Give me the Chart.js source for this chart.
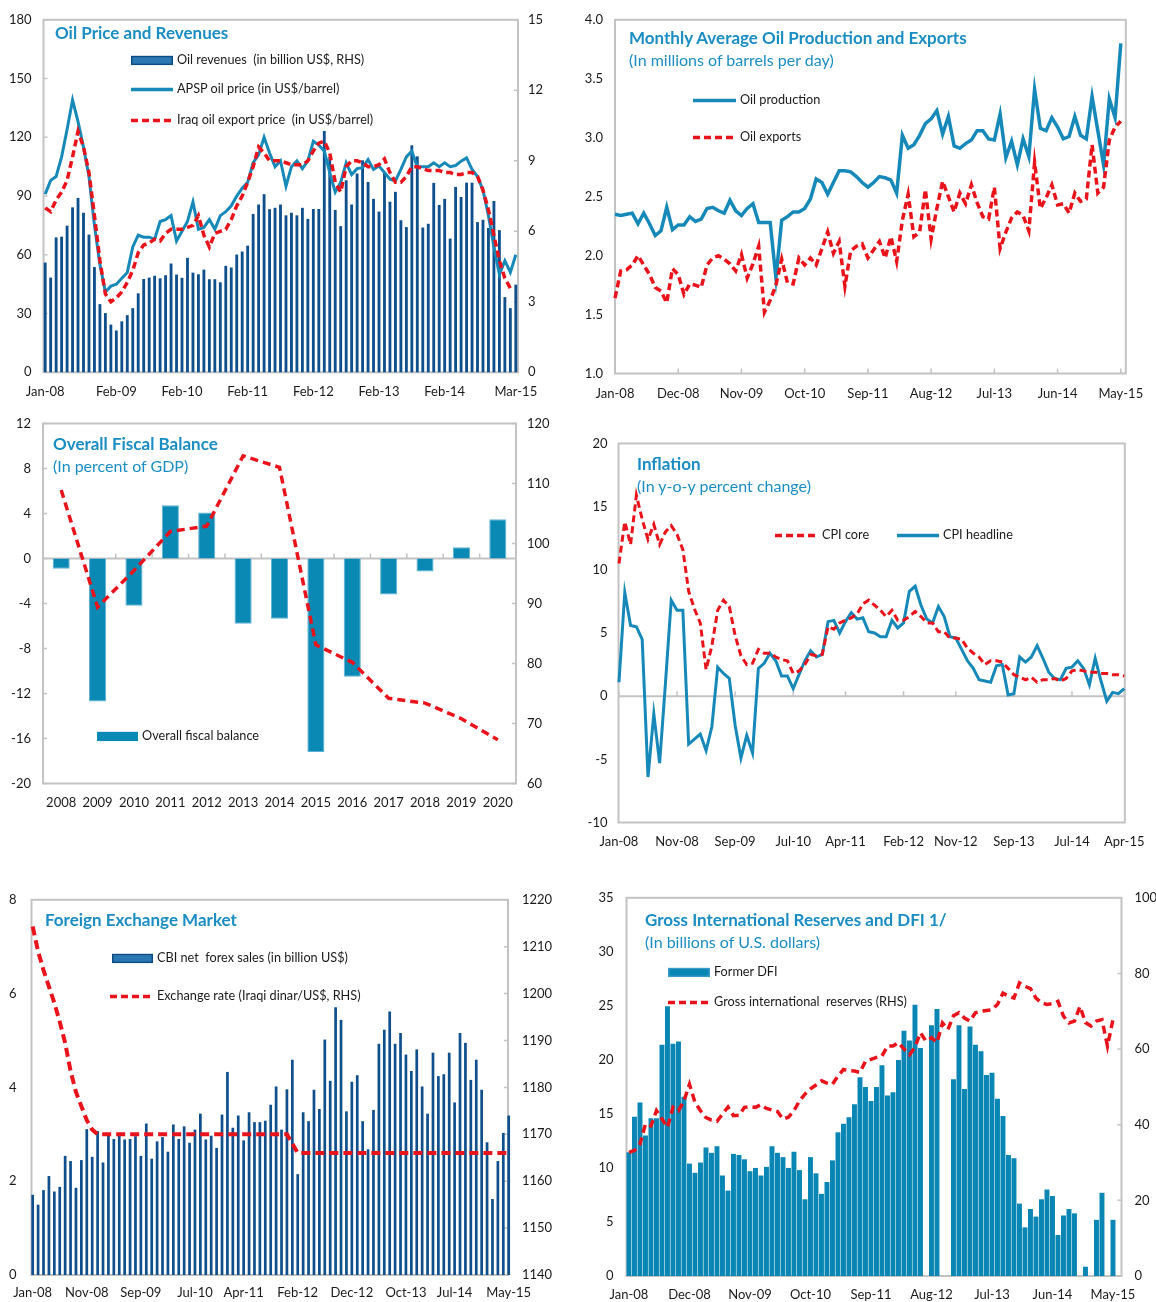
<!DOCTYPE html>
<html>
<head>
<meta charset="utf-8">
<script src="https://cdn.jsdelivr.net/npm/chart.js@4.4.1/dist/chart.umd.min.js"></script>
<style>
body { margin:0; background:#fff; width:1156px; height:1302px; position:relative; overflow:hidden; font-family:Lato, 'Open Sans', sans-serif; }
canvas { position:absolute; }
.ttl { position:absolute; color:#1a8dc2; font-weight:bold; font-size:17px; line-height:1.2; white-space:pre; transform:translateY(-50%); }
.sub { position:absolute; color:#1a8dc2; font-size:16px; line-height:1.2; white-space:pre; transform:translateY(-50%); }
.lg { position:absolute; font-size:12.7px; color:#1a1a1a; line-height:1.2; white-space:pre; display:flex; align-items:center; transform:translateY(-50%); }
.lg svg { margin-right:4px; display:block; }
</style>
</head>
<body>
<script>
// ---- panel 1: oil price and revenues (Jan-08 .. Mar-15)
const oilRevenue = [4.67,4.03,5.74,5.77,6.24,7.02,7.42,6.79,5.86,4.48,
  2.90,2.52,2.03,1.78,2.17,2.43,2.73,3.36,3.97,4.03,
  4.11,4.00,4.13,4.63,4.16,4.02,4.87,4.24,4.17,4.37,
  3.96,3.96,3.83,4.53,4.46,5.01,5.14,5.39,6.74,7.14,
  7.58,6.94,7.00,7.14,6.68,6.79,6.68,7.00,6.53,6.95,
  6.95,10.27,9.17,6.91,6.22,8.17,7.14,8.46,9.02,8.10,
  7.38,6.84,8.49,7.26,7.68,6.47,6.18,9.66,9.19,6.16,
  6.32,8.06,7.12,7.38,5.69,7.89,7.46,8.07,8.07,6.39,
  6.49,6.14,7.29,6.05,3.20,2.73,3.73];
const apspPrice = [91,98,100,110,124,139,128,115,100,75,
  55,41,44,45,48,51,64,70,69,69,
  68,77,78,80,67,72,77,87,73,74,
  78,73,80,82,85,90,94,97,107,111,
  120,112,105,108,95,105,108,104,108,118,
  116,113,102,92,97,107,101,104,104.5,108.6,
  103.6,105.3,102,98.6,97.7,103.6,110,113,105,105,
  105,107,105,107,105,105.6,107.8,109.5,103.6,100,
  93,80,64,50,57,51,60];
const iraqExportPrice = [84,82,88,92,98,110,123,115,102,80,
  57,40,36,38,41,46,52,61,65,66,
  68,67,71,73,73,73,74,75,80,70,
  64,71,72,73,78,85,90,97,105,115,
  112,108,108,108,107,106,106,106,108,113,
  117,118,112,97,92,105,108,108,107,105,
  105,106,109,102,97,97,100,105,105,104,
  103,103,103,102,102,101,101,102,102,100,
  93,83,70,57,48,43,null];
const p1TickLabels = ['Jan-08','Feb-09','Feb-10','Feb-11','Feb-12','Feb-13','Feb-14','Mar-15'];

// ---- panel 2: oil production and exports (Jan-08 .. May-15)
const oilProduction = [2.35,2.34,2.35,2.36,2.27,2.36,2.27,2.17,2.21,2.41,
  2.22,2.26,2.26,2.33,2.29,2.31,2.40,2.41,2.38,2.36,
  2.47,2.38,2.34,2.40,2.44,2.28,2.28,2.28,1.81,2.30,
  2.33,2.37,2.37,2.40,2.48,2.65,2.62,2.52,2.62,2.72,
  2.72,2.71,2.67,2.62,2.58,2.62,2.67,2.66,2.64,2.53,
  3.02,2.91,2.94,3.02,3.12,3.16,3.23,3.03,3.18,2.93,
  2.91,2.95,2.98,3.06,3.06,2.99,2.98,3.20,2.83,2.97,
  2.77,2.99,2.84,3.41,3.08,3.06,3.17,3.09,2.99,3.01,
  3.18,3.02,2.99,3.35,3.06,2.77,3.33,3.17,3.80];
const oilExports = [1.64,1.87,1.88,1.92,2.00,1.92,1.84,1.73,1.70,1.60,
  1.89,1.84,1.67,1.76,1.75,1.73,1.92,1.98,2.00,1.97,
  1.93,1.87,2.01,1.81,1.93,2.08,1.52,1.62,1.75,1.97,
  1.77,1.76,1.98,1.92,1.98,1.92,2.06,2.20,2.02,2.12,
  1.74,2.04,2.08,2.10,1.98,2.05,2.12,1.98,2.16,1.95,
  2.30,2.52,2.16,2.20,2.56,2.14,2.40,2.63,2.50,2.37,
  2.53,2.44,2.60,2.45,2.33,2.31,2.58,2.06,2.20,2.32,
  2.37,2.34,2.21,2.79,2.40,2.49,2.60,2.43,2.44,2.36,
  2.53,2.46,2.48,2.94,2.53,2.58,2.98,3.09,3.14];
const p2TickLabels = ['Jan-08','Dec-08','Nov-09','Oct-10','Sep-11','Aug-12','Jul-13','Jun-14','May-15'];

// ---- panel 3: overall fiscal balance
const fiscalYears = ['2008','2009','2010','2011','2012','2013','2014','2015','2016','2017','2018','2019','2020'];
const fiscalBalance = [-0.9,-12.7,-4.2,4.74,4.1,-5.8,-5.36,-17.2,-10.5,-3.2,-1.16,1.0,3.5];
const fiscalRhsLine = [108.9,89.4,95.5,102,102.9,114.6,112.7,83.1,80.2,74.2,73.4,70.8,67.3];

// ---- panel 4: inflation (Jan-08 .. Apr-15)
const cpiCore = [10.5,13.8,12.0,15.9,14.0,12.4,13.6,12.0,13.0,13.5,
  12.8,11.6,8.3,6.9,5.8,2.1,4.0,6.8,7.6,7.1,
  4.8,3.2,2.5,2.6,3.7,3.4,3.4,3.1,2.9,2.8,
  1.8,2.0,2.5,3.3,3.2,3.3,5.5,5.3,5.8,6.0,
  6.2,6.5,7.3,7.6,7.2,6.8,6.3,6.8,6.0,6.0,
  6.3,6.7,6.3,5.8,5.8,5.1,5.1,4.6,4.6,4.5,
  3.8,3.4,3.1,2.5,2.8,2.8,2.7,2.2,1.7,1.5,
  1.3,1.5,1.1,1.3,1.3,1.4,1.2,1.4,2.0,2.1,
  2.0,1.9,1.9,1.8,1.8,1.7,1.7,1.6];
const cpiHeadline = [1.1,8.2,5.6,5.5,4.5,-6.4,-1.4,-5.3,1.0,7.6,
  6.8,6.8,-3.8,-3.4,-3.0,-4.3,-2.4,2.3,1.8,1.4,
  -2.3,-4.9,-3.1,-4.5,2.2,2.6,3.4,2.8,1.6,1.6,
  0.6,1.7,2.8,3.6,3.1,3.3,5.9,6.0,5.0,5.9,
  6.6,6.1,6.2,5.1,5.0,4.7,4.7,6.0,5.4,5.8,
  8.3,8.7,7.2,6.1,5.8,7.1,6.3,4.7,4.6,3.7,
  2.8,2.2,1.3,1.2,1.1,2.4,2.5,0.1,0.2,3.1,
  2.7,3.1,4.0,3.0,1.9,1.4,1.3,2.2,2.3,2.8,
  2.2,0.9,3.0,1.2,-0.4,0.3,0.2,0.6];
const p4TickLabels = ['Jan-08','Nov-08','Sep-09','Jul-10','Apr-11','Feb-12','Nov-12','Sep-13','Jul-14','Apr-15'];

// ---- panel 5: foreign exchange market (Jan-08 .. May-15)
const forexSales = [1.71,1.50,1.81,2.11,1.78,1.88,2.54,2.43,1.86,2.45,
  3.11,2.52,3.07,2.40,3.03,2.90,3.00,2.89,2.90,2.96,
  2.54,3.23,2.48,2.85,2.94,2.63,3.21,2.90,3.17,2.82,
  3.10,3.44,2.89,2.97,2.71,3.42,4.33,3.14,3.40,2.87,
  3.47,3.26,3.26,3.29,3.63,4.02,3.10,3.96,4.59,2.15,
  3.47,3.28,3.95,3.54,5.02,4.14,5.71,5.44,3.49,4.12,
  4.26,3.28,2.68,3.52,4.93,5.23,5.62,4.93,5.16,4.70,
  4.35,4.81,4.02,3.44,4.74,4.24,4.28,4.74,3.68,5.16,
  4.95,4.16,4.59,3.95,2.83,1.62,2.43,3.03,3.40];
const exchangeRate = [1214.3,1209,1205,1201.5,1198,1194,1189.5,1183.5,1179,1176,
  1173,1171,1170,1170,1170,1170,1170,1170,1170,1170,
  1170,1170,1170,1170,1170,1170,1170,1170,1170,1170,
  1170,1170,1170,1170,1170,1170,1170,1170,1170,1170,
  1170,1170,1170,1170,1170,1170,1170,1170,1168,1166,
  1166,1166,1166,1166,1166,1166,1166,1166,1166,1166,
  1166,1166,1166,1166,1166,1166,1166,1166,1166,1166,
  1166,1166,1166,1166,1166,1166,1166,1166,1166,1166,
  1166,1166,1166,1166,1166,1166,1166,1166,1166];
const p5TickLabels = ['Jan-08','Nov-08','Sep-09','Jul-10','Apr-11','Feb-12','Dec-12','Oct-13','Jul-14','May-15'];

// ---- panel 6: gross international reserves and DFI (Jan-08 .. May-15)
const formerDFI = [11.45,14.74,16.06,13.0,14.6,14.6,21.4,24.96,21.5,21.7,
  16.6,10.4,9.55,10.5,11.9,11.4,12.0,9.3,7.9,11.3,
  11.2,10.8,9.7,10.0,9.3,10.1,12.0,11.4,11.0,10.0,
  11.5,9.8,7.1,11.0,9.5,7.6,8.7,10.7,13.3,14.1,
  14.7,15.9,18.4,17.5,16.2,17.5,19.5,16.7,17.0,20.0,
  22.7,21.8,25.1,21.1,0,23.2,24.7,0,0,18.2,
  23.2,17.3,23.1,21.4,20.8,18.6,18.8,16.4,14.8,11.2,
  10.9,6.7,4.5,6.2,5.5,7.1,8.0,7.4,3.8,5.6,
  6.2,5.8,0,0.86,0,5.2,7.7,0,5.2];
const grossReserves = [32.7,33.2,34.9,40.2,39.7,43.7,41.5,39.3,44.6,43.7,
  46.3,50.7,45.9,43.7,41.9,41.2,40.9,42.8,44.7,42.4,
  42.5,44.6,44.8,44.6,45.3,44.3,43.9,43.5,41.5,42.0,
  43.7,46.3,48.1,49.5,50.5,51.6,51.0,50.7,52.9,54.6,
  54.3,54.2,53.8,56.8,57.3,57.8,58.2,60.8,60.8,61.7,
  60.0,58.5,60.5,64.3,62.1,63.0,61.7,66.9,65.2,68.8,
  69.6,68.2,67.4,69.6,70.0,70.2,70.4,71.8,74.8,74.0,
  73.5,77.5,76.6,76.0,73.5,72.2,71.8,72.0,72.6,68.7,
  66.9,67.4,71.3,67.0,66.1,67.4,67.8,60.8,67.8];
const p6TickLabels = ['Jan-08','Dec-08','Nov-09','Oct-10','Sep-11','Aug-12','Jul-13','Jun-14','May-15'];

// ---------------------------------------------------------------
const MON = ['Jan','Feb','Mar','Apr','May','Jun','Jul','Aug','Sep','Oct','Nov','Dec'];
function monthCats(n) {
  const out = [];
  for (let i = 0; i < n; i++) out.push(MON[i % 12] + '-' + String(8 + Math.floor(i / 12)).padStart(2, '0'));
  return out;
}

const NAVY = '#0e4f8c', TEAL = '#0a89b5', BLUE = '#1689b9', RED = '#e8131b';

Chart.defaults.font.family = "Lato, 'Open Sans', sans-serif";
Chart.defaults.font.size = 13;
Chart.defaults.color = '#1a1a1a';
Chart.defaults.animation = false;
Chart.defaults.plugins.legend.display = false;
Chart.defaults.plugins.tooltip.enabled = false;

const pts = arr => arr.map((v, i) => ({ x: i, y: v }));
const noGrid = { display: false, drawTicks: false };

// frame round the plot, zero line and small tick marks
const frame = {
  id: 'frame',
  beforeDatasetsDraw(chart, args, o) {
    const { ctx, chartArea: a, scales } = chart;
    ctx.save();
    ctx.strokeStyle = '#c3c3c3';
    ctx.lineWidth = 2;
    ctx.strokeRect(a.left, a.top, a.right - a.left, a.bottom - a.top);
    const base = o.zero ? scales.y.getPixelForValue(0) : a.bottom;
    if (o.zero) {
      ctx.beginPath(); ctx.moveTo(a.left, base); ctx.lineTo(a.right, base); ctx.stroke();
    }
    ctx.lineWidth = 1.5;
    ctx.beginPath();
    const xs = scales.x;
    let marks = xs.ticks.map(t => xs.getPixelForValue(t.value));
    if (o.between) marks = marks.slice(1).map((p, i) => (p + marks[i]) / 2);
    marks.forEach(p => { ctx.moveTo(p, base); ctx.lineTo(p, base - 5); });
    (o.sideTicks || []).forEach(id => {
      const s = scales[id];
      const x0 = s.position === 'left' ? a.left : a.right;
      const dir = s.position === 'left' ? 1 : -1;
      s.ticks.forEach(t => { const y = s.getPixelForValue(t.value); ctx.moveTo(x0, y); ctx.lineTo(x0 + 4 * dir, y); });
    });
    ctx.stroke();
    ctx.restore();
  }
};

function makeCanvas(box) {
  const c = document.createElement('canvas');
  c.width = box.w; c.height = box.h;
  c.style.left = box.x + 'px'; c.style.top = box.y + 'px';
  c.style.width = box.w + 'px'; c.style.height = box.h + 'px';
  document.body.appendChild(c);
  return c;
}
function geom(box, p) {
  return { lw: p.l - box.x, th: p.t - box.y, rw: box.x + box.w - p.r, bh: box.y + box.h - p.b };
}
function monthAxis(cats, shown, min, max, bh, pad) {
  return {
    type: 'linear', position: 'bottom', min: min, max: max, offset: false,
    afterBuildTicks: s => { s.ticks = shown.map(l => ({ value: cats.indexOf(l) })); },
    ticks: { autoSkip: false, maxRotation: 0, minRotation: 0, padding: pad, callback: v => cats[v] },
    grid: noGrid, border: { display: false },
    afterFit: s => { s.height = bh; }
  };
}
function valAxis(pos, min, max, step, w, pad, fmt) {
  return {
    type: 'linear', position: pos, min: min, max: max,
    ticks: { stepSize: step, padding: pad, callback: fmt || (v => String(v)) },
    grid: noGrid, border: { display: false },
    afterFit: s => { s.width = w; }
  };
}
function blankAxis(axis, pos, size) {
  return {
    type: 'linear', axis: axis, position: pos,
    ticks: { display: false }, grid: noGrid, border: { display: false },
    afterFit: s => { if (axis === 'x') s.height = size; else s.width = size; }
  };
}
function lineSet(data, color, width, dash, yID, order) {
  return { type: 'line', data: pts(data), yAxisID: yID, borderColor: color, borderWidth: width,
    borderDash: dash || [], pointRadius: 0, tension: 0, fill: false, order: order, clip: false };
}
function barSet(data, color, yID, pct, order) {
  return { type: 'bar', data: pts(data), yAxisID: yID, backgroundColor: color,
    barPercentage: pct, categoryPercentage: 1, order: order, clip: false };
}

function addText(cls, x, cy, text) {
  const d = document.createElement('div');
  d.className = cls; d.textContent = text;
  d.style.left = x + 'px'; d.style.top = cy + 'px';
  document.body.appendChild(d);
}
function addLegend(x, cy, tx, kind, color, text) {
  const w = tx - x - 4;
  const NS = 'http://www.w3.org/2000/svg';
  const svg = document.createElementNS(NS, 'svg');
  let el;
  if (kind === 'bar') {
    svg.setAttribute('width', w); svg.setAttribute('height', 10);
    el = document.createElementNS(NS, 'rect');
    el.setAttribute('x', 0.75); el.setAttribute('y', 1); el.setAttribute('width', w - 1.5); el.setAttribute('height', 8);
    el.setAttribute('fill', color[0]); el.setAttribute('stroke', color[1]); el.setAttribute('stroke-width', 1.5);
  } else {
    svg.setAttribute('width', w); svg.setAttribute('height', 6);
    el = document.createElementNS(NS, 'line');
    el.setAttribute('x1', 0); el.setAttribute('y1', 3); el.setAttribute('x2', w); el.setAttribute('y2', 3);
    el.setAttribute('stroke', color); el.setAttribute('stroke-width', 3.5);
    if (kind === 'dash') el.setAttribute('stroke-dasharray', '7 4');
  }
  svg.appendChild(el);
  const d = document.createElement('div');
  d.className = 'lg';
  d.style.left = x + 'px'; d.style.top = cy + 'px';
  const sp = document.createElement('span'); sp.textContent = text;
  d.appendChild(svg); d.appendChild(sp);
  document.body.appendChild(d);
}

function build(box, scales, datasets, frameOpts, labels) {
  const c = makeCanvas(box);
  const data = { datasets: datasets };
  if (labels) data.labels = labels;
  return new Chart(c, {
    type: 'bar',
    data: data,
    options: { responsive: false, layout: { padding: 0 }, scales: scales, plugins: { frame: frameOpts } },
    plugins: [frame]
  });
}

// ---- panel 1
(function () {
  const cats = monthCats(oilRevenue.length);
  const box = { x: 0, y: 0, w: 560, h: 402 };
  const g = geom(box, { l: 43.5, t: 14.5, r: 518, b: 372.3 });
  build(box, {
    x: monthAxis(cats, p1TickLabels, -0.31, 86.4, g.bh, 12),
    xTop: blankAxis('x', 'top', g.th),
    y: valAxis('left', 0, 180, 30, g.lw, 12),
    y2: valAxis('right', 0, 15, 3, g.rw, 10)
  }, [
    lineSet(iraqExportPrice, RED, 3.5, [7, 4], 'y', 0),
    lineSet(apspPrice, BLUE, 3, null, 'y', 1),
    barSet(oilRevenue, NAVY, 'y2', 0.52, 2)
  ], { sideTicks: ['y', 'y2'] });
  addText('ttl', 55, 33, 'Oil Price and Revenues');
  addLegend(131, 60, 177, 'bar', ['#2a78b3', '#0d4a80'], 'Oil revenues  (in billion US$, RHS)');
  addLegend(131, 89, 177, 'line', BLUE, 'APSP oil price (in US$/barrel)');
  addLegend(131, 120, 177, 'dash', RED, 'Iraq oil export price  (in US$/barrel)');
})();

// ---- panel 2
(function () {
  const cats = monthCats(oilProduction.length);
  const box = { x: 570, y: 0, w: 586, h: 402 };
  const g = geom(box, { l: 615, t: 15, r: 1127, b: 373.5 });
  build(box, {
    x: monthAxis(cats, p2TickLabels, 0, 88.87, g.bh, 12.5),
    xTop: blankAxis('x', 'top', g.th),
    y: valAxis('left', 1, 4, 0.5, g.lw, 12, v => v.toFixed(1)),
    yR: blankAxis('y', 'right', g.rw)
  }, [
    lineSet(oilExports, RED, 3.5, [7, 4], 'y', 0),
    lineSet(oilProduction, BLUE, 3.5, null, 'y', 1)
  ], {});
  addText('ttl', 629, 38, 'Monthly Average Oil Production and Exports');
  addText('sub', 629, 60, '(In millions of barrels per day)');
  addLegend(693, 100, 740, 'line', BLUE, 'Oil production');
  addLegend(693, 137, 740, 'dash', RED, 'Oil exports');
})();

// ---- panel 3
(function () {
  const box = { x: 0, y: 403, w: 560, h: 411 };
  const g = geom(box, { l: 43, t: 423.5, r: 516, b: 783.5 });
  build(box, {
    x: { type: 'category', position: 'bottom', offset: true,
      ticks: { autoSkip: false, maxRotation: 0, padding: 11.5 },
      grid: noGrid, border: { display: false }, afterFit: s => { s.height = g.bh; } },
    xTop: blankAxis('x', 'top', g.th),
    y: valAxis('left', -20, 12, 4, g.lw, 12),
    y2: valAxis('right', 60, 120, 10, g.rw, 11)
  }, [
    { type: 'line', data: fiscalRhsLine, yAxisID: 'y2', borderColor: RED, borderWidth: 3.5, borderDash: [8, 5],
      pointRadius: 0, tension: 0, fill: false, order: 0 },
    { type: 'bar', data: fiscalBalance, yAxisID: 'y', backgroundColor: TEAL, borderColor: '#5cb0d4', borderWidth: 1,
      barPercentage: 0.47, categoryPercentage: 1, order: 1 }
  ], { zero: true, between: true, sideTicks: ['y', 'y2'] }, fiscalYears);
  addText('ttl', 53, 444, 'Overall Fiscal Balance');
  addText('sub', 53, 466, '(In percent of GDP)');
  addLegend(97, 736, 142, 'bar', [TEAL, TEAL], 'Overall fiscal balance');
})();

// ---- panel 4
(function () {
  const cats = monthCats(cpiCore.length);
  const box = { x: 570, y: 420, w: 586, h: 433 };
  const g = geom(box, { l: 618.5, t: 443.5, r: 1136.5, b: 822.5 });
  build(box, {
    x: monthAxis(cats, p4TickLabels, -0.08, 87.1, g.bh, 11.5),
    xTop: blankAxis('x', 'top', g.th),
    y: valAxis('left', -10, 20, 5, g.lw, 11),
    yR: blankAxis('y', 'right', g.rw)
  }, [
    lineSet(cpiHeadline, BLUE, 3, null, 'y', 1),
    lineSet(cpiCore, RED, 3, [7, 4], 'y', 0)
  ], { zero: true });
  addText('ttl', 637, 464, 'Inflation');
  addText('sub', 637, 486, '(In y-o-y percent change)');
  addLegend(775, 535, 822, 'dash', RED, 'CPI core');
  addLegend(897, 535, 943, 'line', BLUE, 'CPI headline');
})();

// ---- panel 5
(function () {
  const cats = monthCats(forexSales.length);
  const box = { x: 0, y: 877, w: 553, h: 425 };
  const g = geom(box, { l: 31.5, t: 897, r: 508, b: 1275 });
  build(box, {
    x: monthAxis(cats, p5TickLabels, -0.22, 87.87, g.bh, 10),
    xTop: blankAxis('x', 'top', g.th),
    y: valAxis('left', 0, 8, 2, g.lw, 15),
    y2: valAxis('right', 1140, 1220, 10, g.rw, 14)
  }, [
    lineSet(exchangeRate, RED, 4, [9, 5], 'y2', 0),
    barSet(forexSales, NAVY, 'y', 0.5, 1)
  ], { sideTicks: ['y2'] });
  addText('ttl', 45, 920, 'Foreign Exchange Market');
  addLegend(112, 958, 157, 'bar', ['#2a78b3', '#0d4a80'], 'CBI net  forex sales (in billion US$)');
  addLegend(110, 996, 157, 'dash', RED, 'Exchange rate (Iraqi dinar/US$, RHS)');
})();

// ---- panel 6
(function () {
  const cats = monthCats(formerDFI.length);
  const box = { x: 575, y: 877, w: 581, h: 425 };
  const g = geom(box, { l: 626.5, t: 896, r: 1121.5, b: 1276 });
  build(box, {
    x: monthAxis(cats, p6TickLabels, -0.45, 89.55, g.bh, 11),
    xTop: blankAxis('x', 'top', g.th),
    y: valAxis('left', 0, 35, 5, g.lw, 13),
    y2: valAxis('right', 0, 100, 20, g.rw, 13)
  }, [
    lineSet(grossReserves, RED, 3.5, [8, 5], 'y2', 0),
    barSet(formerDFI, '#0a86b4', 'y', 0.9, 1)
  ], { sideTicks: ['y2'] });
  addText('ttl', 645, 920, 'Gross International Reserves and DFI 1/');
  addText('sub', 645, 942, '(In billions of U.S. dollars)');
  addLegend(668, 972, 714, 'bar', ['#0a86b4', '#3c9bc6'], 'Former DFI');
  addLegend(668, 1002, 714, 'dash', RED, 'Gross international  reserves (RHS)');
})();
</script>
</body>
</html>
